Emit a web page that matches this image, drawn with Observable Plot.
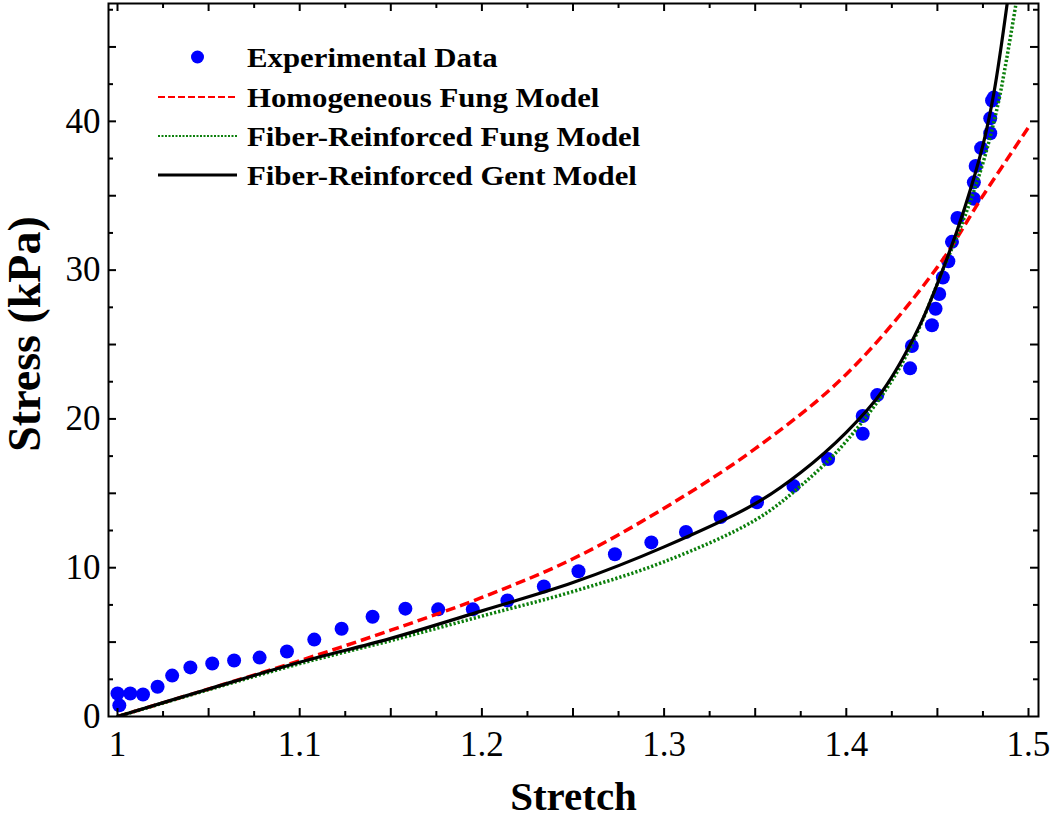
<!DOCTYPE html>
<html><head><meta charset="utf-8">
<script src="https://cdn.jsdelivr.net/npm/d3@7"></script>
<script src="https://cdn.jsdelivr.net/npm/@observablehq/plot@0.6"></script>
<style>
html,body{margin:0;padding:0;background:#fff;overflow:hidden;}
#wrap{position:relative;width:1050px;height:820px;}
#legend{position:absolute;left:0;top:0;pointer-events:none;}
</style></head><body><div id="wrap"></div>
<script>
// ---- data ----
const expStretch = [1.000, 1.001, 1.007, 1.014, 1.022, 1.030, 1.040, 1.052, 1.064, 1.078, 1.093, 1.108, 1.123, 1.140, 1.158, 1.176, 1.195, 1.214, 1.234, 1.253, 1.273, 1.293, 1.312, 1.331, 1.351, 1.371, 1.390, 1.409, 1.409, 1.417, 1.435, 1.436, 1.447, 1.449, 1.451, 1.453, 1.456, 1.458, 1.461, 1.470, 1.470, 1.471, 1.474, 1.479, 1.479, 1.480, 1.481];
const expStress  = [1.55, 0.75, 1.55, 1.48, 2.0, 2.75, 3.3, 3.56, 3.76, 3.96, 4.37, 5.17, 5.9, 6.7, 7.25, 7.2, 7.2, 7.8, 8.74, 9.76, 10.9, 11.7, 12.4, 13.4, 14.4, 15.5, 17.3, 19.0, 20.2, 21.6, 23.4, 24.9, 26.3, 27.4, 28.4, 29.5, 30.6, 31.9, 33.5, 34.8, 35.9, 37.0, 38.2, 39.2, 40.2, 41.4, 41.6];

const homFungStretch = [1.0, 1.05, 1.1, 1.15, 1.2, 1.25, 1.3, 1.35, 1.4, 1.45, 1.475, 1.5];
const homFungStress  = [0, 1.85, 3.75, 5.8, 8.0, 10.6, 14.0, 18.0, 23.0, 30.2, 35.0, 39.6];

const fibFungStretch = [1.0, 1.05, 1.1, 1.15, 1.2, 1.25, 1.3, 1.35, 1.375, 1.4, 1.43, 1.455, 1.465, 1.475, 1.483, 1.488, 1.493];
const fibFungStress  = [0, 1.8, 3.55, 5.1, 6.75, 8.4, 10.4, 13.2, 15.5, 18.5, 23.6, 30.6, 33.6, 37.2, 41.0, 44.2, 47.8];

const gentStretch = [1.0, 1.05, 1.1, 1.15, 1.2, 1.25, 1.3, 1.35, 1.375, 1.4, 1.42, 1.44, 1.455, 1.465, 1.475, 1.481, 1.4885];
const gentStress  = [0, 1.85, 3.65, 5.25, 7.1, 9.0, 11.4, 14.3, 16.4, 19.1, 21.9, 26.2, 30.7, 34.2, 38.4, 41.9, 48.1];

const xLabelTicks = [1, 1.1, 1.2, 1.3, 1.4, 1.5];
const yLabelTicks = [0, 10, 20, 30, 40];
const xMajorTicks = [1, 1.05, 1.1, 1.15, 1.2, 1.25, 1.3, 1.35, 1.4, 1.45, 1.5];
const xMinorTicks = [1.025, 1.075, 1.125, 1.175, 1.225, 1.275, 1.325, 1.375, 1.425, 1.475];
const yMajorTicks = [5, 10, 15, 20, 25, 30, 35, 40, 45];
const yMinorTicks = [2.5, 7.5, 12.5, 17.5, 22.5, 27.5, 32.5, 37.5, 42.5, 47.5];

const legendLabels = ["Experimental Data", "Homogeneous Fung Model", "Fiber-Reinforced Fung Model", "Fiber-Reinforced Gent Model"];
const xTitle = "Stretch";
const yTitle = "Stress (kPa)";

// ---- layout ----
const W = 1050, H = 820;
const mL = 108, mR = 12, mT = 3, mB = 104;
const xDomain = [0.99506, 1.50549];
const yDomain = [0, 47.92];
const xPerPx = (xDomain[1] - xDomain[0]) / (W - mL - mR);
const yPerPx = (yDomain[1] - yDomain[0]) / (H - mT - mB);
const majLen = 8, minLen = 5;
const serif = "'Liberation Serif', 'Times New Roman', serif";
const GREEN = "#0b7f0b";

const pts = (xs, ys) => xs.map((x, i) => ({x, y: ys[i]}));
const tickStyle = {stroke: "black", strokeWidth: 2};

const marks = [
  // experimental data
  Plot.dot(pts(expStretch, expStress), {x: "x", y: "y", r: 7, fill: "#0000ff", stroke: "none"}),
  // models
  Plot.line(pts(homFungStretch, homFungStress), {x: "x", y: "y", stroke: "#ff0000", strokeWidth: 3.5, strokeDasharray: "10,5", strokeLinecap: "butt", curve: "catmull-rom", clip: true}),
  Plot.line(pts(fibFungStretch, fibFungStress), {x: "x", y: "y", stroke: GREEN, strokeWidth: 3.5, strokeDasharray: "2.2,2", strokeLinecap: "butt", curve: "catmull-rom", clip: true}),
  Plot.line(pts(gentStretch, gentStress), {x: "x", y: "y", stroke: "black", strokeWidth: 3.2, curve: "catmull-rom", clip: true}),
  // inward ticks: bottom & top
  Plot.ruleX(xMajorTicks, {x: d => d, y1: yDomain[0], y2: yDomain[0] + majLen * yPerPx, ...tickStyle}),
  Plot.ruleX(xMinorTicks, {x: d => d, y1: yDomain[0], y2: yDomain[0] + minLen * yPerPx, ...tickStyle}),
  Plot.ruleX(xMajorTicks, {x: d => d, y1: yDomain[1], y2: yDomain[1] - majLen * yPerPx, ...tickStyle}),
  Plot.ruleX(xMinorTicks, {x: d => d, y1: yDomain[1], y2: yDomain[1] - minLen * yPerPx, ...tickStyle}),
  // inward ticks: left & right
  Plot.ruleY(yMajorTicks, {y: d => d, x1: xDomain[0], x2: xDomain[0] + majLen * xPerPx, ...tickStyle}),
  Plot.ruleY(yMinorTicks, {y: d => d, x1: xDomain[0], x2: xDomain[0] + minLen * xPerPx, ...tickStyle}),
  Plot.ruleY(yMajorTicks, {y: d => d, x1: xDomain[1], x2: xDomain[1] - majLen * xPerPx, ...tickStyle}),
  Plot.ruleY(yMinorTicks, {y: d => d, x1: xDomain[1], x2: xDomain[1] - minLen * xPerPx, ...tickStyle}),
  Plot.frame({stroke: "black", strokeWidth: 2}),
  // tick labels
  Plot.axisX({ticks: xLabelTicks, tickSize: 0, tickPadding: 15, tickFormat: d => String(d), fontSize: 35, fontFamily: serif, label: null, fill: "black"}),
  Plot.axisY({ticks: yLabelTicks, tickSize: 0, tickPadding: 8, tickFormat: d => String(d), fontSize: 35, fontFamily: serif, label: null, fill: "black"}),
  // titles
  Plot.text([xTitle], {text: d => d, frameAnchor: "bottom", textAnchor: "middle", dy: 93, fontSize: 41, fontWeight: "bold", fontFamily: serif, fill: "black"}),
  Plot.text([yTitle], {text: d => d, frameAnchor: "left", textAnchor: "middle", dx: -83, dy: -26, rotate: -90, fontSize: 46, fontWeight: "bold", fontFamily: serif, fill: "black"})
];

const chart = Plot.plot({
  width: W, height: H,
  marginLeft: mL, marginRight: mR, marginTop: mT, marginBottom: mB,
  x: {domain: xDomain, axis: null},
  y: {domain: yDomain, axis: null},
  style: {fontFamily: serif, background: "white", color: "black", overflow: "visible"},
  marks
});
const wrap = document.getElementById("wrap");
wrap.appendChild(chart);

// ---- legend (inside plot area, upper left) ----
const lg = d3.select(wrap).append("svg").attr("id", "legend").attr("width", W).attr("height", H);
const rowY = [57, 97, 136, 175];
const lineX1 = 158, lineX2 = 237, textX = 247;
lg.append("circle").attr("cx", (lineX1 + lineX2) / 2).attr("cy", rowY[0]).attr("r", 6.5).attr("fill", "#0000ff");
lg.append("line").attr("x1", lineX1).attr("x2", lineX2).attr("y1", rowY[1]).attr("y2", rowY[1])
  .attr("stroke", "#ff0000").attr("stroke-width", 2.2).attr("stroke-dasharray", "7,3");
lg.append("line").attr("x1", lineX1).attr("x2", lineX2).attr("y1", rowY[2]).attr("y2", rowY[2])
  .attr("stroke", GREEN).attr("stroke-width", 2.2).attr("stroke-dasharray", "2,1.5");
lg.append("line").attr("x1", lineX1).attr("x2", lineX2).attr("y1", rowY[3]).attr("y2", rowY[3])
  .attr("stroke", "black").attr("stroke-width", 3);
lg.selectAll("text.lab").data(legendLabels).join("text").attr("class", "lab")
  .attr("transform", (d, i) => `translate(${textX},${rowY[i]}) scale(1.1,1)`).attr("dy", "0.35em")
  .attr("font-family", serif).attr("font-weight", "bold").attr("font-size", 28).attr("fill", "black")
  .text(d => d);
</script></body></html>
